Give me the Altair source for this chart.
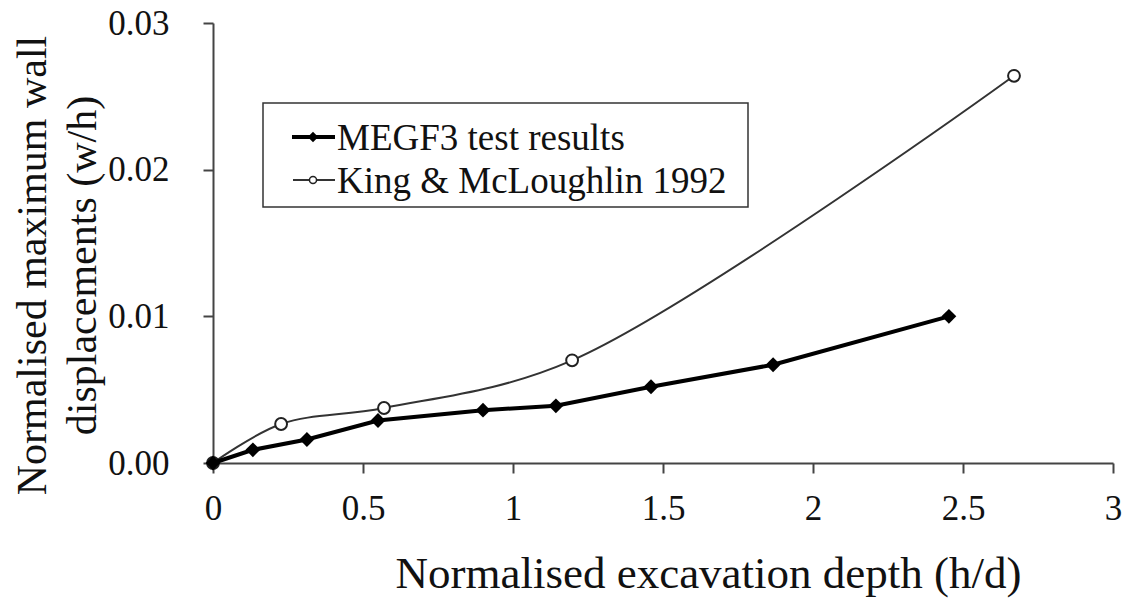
import altair as alt
import pandas as pd

# MEGF3 centrifuge test results
megf3_x = [0.0, 0.133, 0.313, 0.55, 0.90, 1.143, 1.46, 1.867, 2.453]
megf3_y = [0.0, 0.0009, 0.0016, 0.0029, 0.0036, 0.0039, 0.0052, 0.0067, 0.0100]

# King & McLoughlin (1992)
king_x = [0.0, 0.227, 0.57, 1.197, 2.67]
king_y = [0.0, 0.00266, 0.00375, 0.0070, 0.0264]

x_ticks = [0, 0.5, 1, 1.5, 2, 2.5, 3]
y_ticks = [0.0, 0.01, 0.02, 0.03]

FONT = "Liberation Serif"
INK = "#111111"

megf3 = pd.DataFrame({"x": megf3_x, "y": megf3_y, "s": "MEGF3 test results"})
king = pd.DataFrame({"x": king_x, "y": king_y, "s": "King & McLoughlin 1992"})
data = pd.concat([king, megf3], ignore_index=True)

x_enc = alt.X(
    "x:Q",
    scale=alt.Scale(domain=[0, 3], nice=False),
    axis=alt.Axis(
        values=x_ticks,
        format="~g",
        labelFont=FONT,
        labelFontSize=35,
        labelColor=INK,
        labelFlush=False,
        labelPadding=18,
        title="Normalised excavation depth (h/d)",
        titleFont=FONT,
        titleFontSize=45,
        titleX=495,
        titleY=124,
        titleAlign="center",
        titleBaseline="alphabetic",
    ),
)
y_enc = alt.Y(
    "y:Q",
    scale=alt.Scale(domain=[0, 0.03], nice=False),
    axis=alt.Axis(
        values=y_ticks,
        format=".2f",
        labelFont=FONT,
        labelFontSize=35,
        labelColor=INK,
        labelPadding=34,
        title=["Normalised maximum wall", "displacements (w/h)"],
        titleFont=FONT,
        titleFontSize=42,
        titleX=-201,
        titleY=242,
        titleAngle=-90,
        titleAlign="center",
        titleBaseline="top",
        titleLineHeight=50,
    ),
)

base = alt.Chart(data).encode(x=x_enc, y=y_enc)
is_king = alt.datum.s == "King & McLoughlin 1992"
is_megf3 = alt.datum.s == "MEGF3 test results"

king_line = base.transform_filter(is_king).mark_line(
    interpolate="catmull-rom", color="#333333", strokeWidth=2
)
king_pts = base.transform_filter(is_king).mark_point(
    shape="circle", size=140, filled=True, fill="white", stroke="#222222", strokeWidth=2, opacity=1
)
megf3_line = base.transform_filter(is_megf3).mark_line(color="black", strokeWidth=4)
megf3_pts = base.transform_filter(is_megf3).mark_point(
    shape="diamond", size=220, filled=True, color="black", opacity=1
)

# Legend box drawn in pixel space
one = pd.DataFrame({"k": [0]})
box = alt.Chart(one).mark_rect(fill="white", stroke="#333333", strokeWidth=1.5).encode(
    x=alt.value(50), x2=alt.value(535), y=alt.value(80), y2=alt.value(184)
)
leg1_line = alt.Chart(one).mark_rule(color="black", strokeWidth=4).encode(
    x=alt.value(79), x2=alt.value(122), y=alt.value(114)
)
leg1_pt = alt.Chart(one).mark_point(shape="diamond", size=110, filled=True, color="black", opacity=1).encode(
    x=alt.value(100), y=alt.value(114)
)
leg1_txt = alt.Chart(one).mark_text(
    text="MEGF3 test results", font=FONT, fontSize=37, align="left", baseline="middle", color=INK
).encode(x=alt.value(124), y=alt.value(116))
leg2_line = alt.Chart(one).mark_rule(color="#333333", strokeWidth=2).encode(
    x=alt.value(80), x2=alt.value(122), y=alt.value(157)
)
leg2_pt = alt.Chart(one).mark_point(
    shape="circle", size=50, filled=True, fill="white", stroke="#222222", strokeWidth=1.5, opacity=1
).encode(x=alt.value(100), y=alt.value(157))
leg2_txt = alt.Chart(one).mark_text(
    text="King & McLoughlin 1992", font=FONT, fontSize=37, align="left", baseline="middle", color=INK
).encode(x=alt.value(124), y=alt.value(159))

chart = (
    alt.layer(
        king_line, king_pts, megf3_line, megf3_pts,
        box, leg1_line, leg1_pt, leg1_txt, leg2_line, leg2_pt, leg2_txt,
    )
    .properties(
        width=900,
        height=440,
        autosize=alt.AutoSizeParams(type="none"),
        padding={"left": 213, "top": 23, "right": 9, "bottom": 136},
        background="white",
    )
    .configure_view(stroke=None)
    .configure_axis(
        grid=False,
        domainColor="#444444",
        domainWidth=2,
        tickColor="#444444",
        tickWidth=2,
        tickSize=10,
        titleFontWeight="normal",
        titleColor=INK,
    )
)

chart.save("out.html", embed_options={"renderer": "svg", "actions": False})
